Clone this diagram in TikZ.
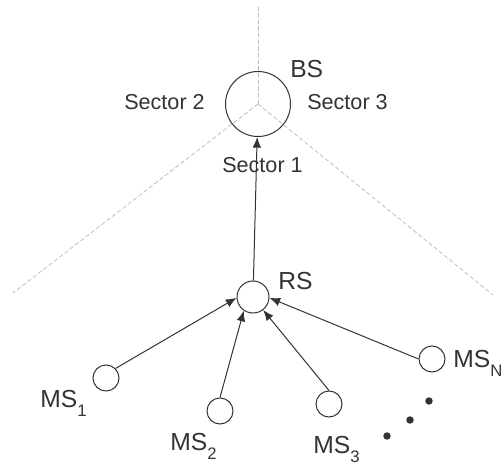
\documentclass[tikz,border=0pt]{standalone}
\usepackage{fontspec}
\setmainfont{Liberation Sans}
\usetikzlibrary{arrows.meta}
\definecolor{ink}{HTML}{333333}
\definecolor{sectorline}{HTML}{C4BCBC}
\newcommand\lbsub[1]{\raisebox{-7pt}{\fontsize{12.5}{14}\selectfont #1}}
\begin{document}
\begin{tikzpicture}[x=0.75pt,y=-0.75pt,
  station/.style={circle,draw=ink,line width=0.75pt,inner sep=0pt},
  bsstyle/.style={station,minimum size=48.75pt},
  rsstyle/.style={station,minimum size=24pt},
  msstyle/.style={station,minimum size=19.5pt},
  lbl/.style={anchor=base west,inner sep=0pt,text=ink,font=\fontsize{18.5}{22}\selectfont},
  seclbl/.style={anchor=base west,inner sep=0pt,text=ink,font=\fontsize{16.2}{19}\selectfont},
  sector/.style={draw=sectorline,line width=0.6pt,dash pattern=on 3.2pt off 1.8pt},
  link/.style={draw=ink,line width=0.75pt,-{Latex[length=8pt,width=6.5pt]}},
  dotmark/.style={circle,fill=ink,inner sep=0pt,minimum size=5.6pt}]
\useasboundingbox (0,0) rectangle (502,466);
% sector boundaries
\coordinate (c) at (258,104);
\coordinate (top) at (258,7);
\coordinate (left) at (13,293);
\coordinate (right) at (493,295);
\draw[sector] (c) -- (top);
\draw[sector] (c) -- (left);
\draw[sector] (c) -- (right);
% stations
\node[bsstyle] (BS) at (258,104) {};
\node[rsstyle] (RS) at (253,297) {};
\node[msstyle] (MS1) at (106,378) {};
\node[msstyle] (MS2) at (220,411) {};
\node[msstyle] (MS3) at (329,404) {};
\node[msstyle] (MSN) at (432,359) {};
% labels
\node[lbl] (BSl) at (290,77.5) {BS};
\node[lbl] (RSl) at (278,289) {RS};
\node[lbl] (MS1l) at (40,407) {MS\lbsub{1}};
\node[lbl] (MS2l) at (170,450) {MS\lbsub{2}};
\node[lbl] (MS3l) at (313,453) {MS\lbsub{3}};
\node[lbl] (MSNl) at (453,367) {MS\lbsub{N}};
\node[seclbl] (s2) at (124,110) {Sector 2};
\node[seclbl] (s3) at (307,110) {Sector 3};
\node[seclbl] (s1) at (222,173) {Sector 1};
% links
\draw[link] (RS) -- (BS);
\draw[link] (MS1.45) -- (RS.183);
\draw[link] (MS2.90) -- (RS.236);
\draw[link] (MS3.90) -- (RS.308);
\draw[link] (MSN.180) -- (RS.357);
% dots
\node[dotmark] (d1) at (429,401) {};
\node[dotmark] (d2) at (410,420) {};
\node[dotmark] (d3) at (387,436) {};
\end{tikzpicture}
\end{document}
